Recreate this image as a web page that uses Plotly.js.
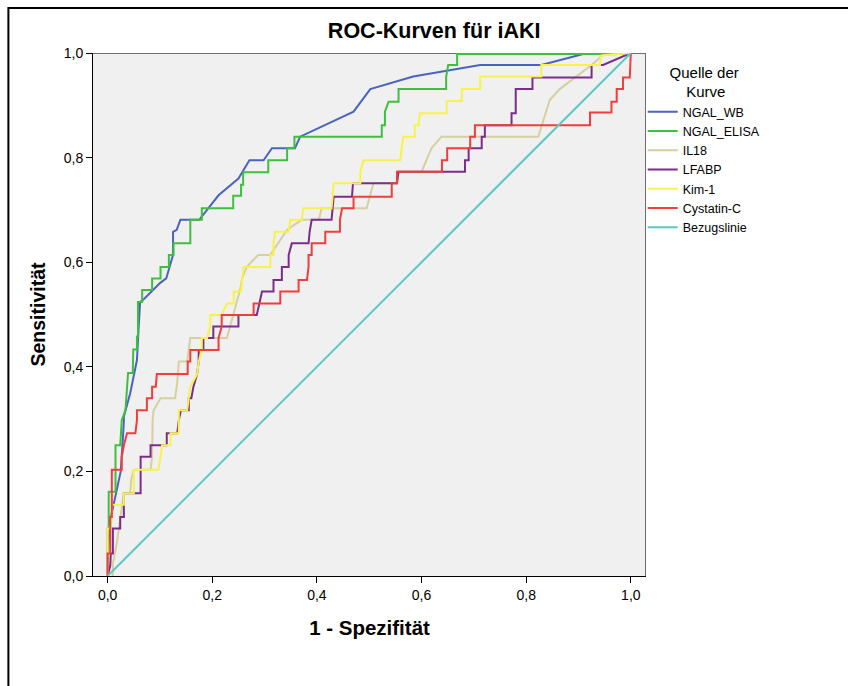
<!DOCTYPE html>
<html>
<head>
<meta charset="utf-8">
<script src="https://cdn.plot.ly/plotly-3.0.1.min.js"></script>
<style>
html,body{margin:0;padding:0;background:#fff;}
#chart{width:848px;height:686px;}
</style>
</head>
<body>
<div id="chart"></div>
<script>
// ---- Data ----
const seriesNames = ["NGAL_WB", "NGAL_ELISA", "IL18", "LFABP", "Kim-1", "Cystatin-C", "Bezugslinie"];

const ngalWbX = [0, 0, 0.005, 0.018, 0.025, 0.031, 0.031, 0.043, 0.056, 0.059, 0.062, 0.07, 0.088, 0.1, 0.112, 0.125, 0.125, 0.132, 0.139, 0.175, 0.212, 0.24, 0.25, 0.271, 0.298, 0.314, 0.358, 0.368, 0.47, 0.502, 0.584, 0.712, 0.829, 0.909, 1.0];
const ngalWbY = [0, 0.04, 0.107, 0.164, 0.2, 0.295, 0.305, 0.349, 0.413, 0.47, 0.524, 0.53, 0.547, 0.56, 0.569, 0.614, 0.658, 0.662, 0.681, 0.681, 0.728, 0.751, 0.76, 0.795, 0.795, 0.818, 0.818, 0.84, 0.888, 0.931, 0.955, 0.977, 0.977, 0.998, 1.0];

const ngalElisaX = [0, 0, 0.002, 0.002, 0.015, 0.015, 0.024, 0.027, 0.034, 0.039, 0.048, 0.048, 0.049, 0.056, 0.056, 0.058, 0.058, 0.066, 0.066, 0.085, 0.085, 0.101, 0.101, 0.117, 0.117, 0.126, 0.126, 0.158, 0.158, 0.18, 0.18, 0.24, 0.24, 0.255, 0.255, 0.259, 0.259, 0.307, 0.307, 0.343, 0.343, 0.357, 0.357, 0.524, 0.524, 0.53, 0.53, 0.537, 0.556, 0.556, 0.647, 0.647, 0.651, 0.668, 0.668, 1.0];
const ngalElisaY = [0, 0.091, 0.091, 0.161, 0.161, 0.25, 0.25, 0.298, 0.317, 0.388, 0.388, 0.41, 0.433, 0.433, 0.458, 0.458, 0.524, 0.524, 0.547, 0.547, 0.569, 0.569, 0.591, 0.591, 0.614, 0.614, 0.636, 0.636, 0.681, 0.681, 0.703, 0.703, 0.727, 0.727, 0.748, 0.748, 0.772, 0.772, 0.795, 0.795, 0.818, 0.818, 0.84, 0.84, 0.862, 0.862, 0.888, 0.907, 0.907, 0.931, 0.931, 0.955, 0.977, 0.977, 0.998, 0.998];

const il18X = [0.01, 0.01, 0.017, 0.021, 0.027, 0.031, 0.043, 0.045, 0.05, 0.082, 0.085, 0.086, 0.088, 0.101, 0.129, 0.133, 0.136, 0.152, 0.155, 0.158, 0.228, 0.241, 0.253, 0.257, 0.266, 0.288, 0.311, 0.343, 0.371, 0.404, 0.409, 0.495, 0.508, 0.553, 0.556, 0.6, 0.619, 0.638, 0.823, 0.845, 0.864, 0.925, 0.947, 1.0];
const il18Y = [0, 0.024, 0.06, 0.091, 0.13, 0.158, 0.158, 0.184, 0.203, 0.203, 0.228, 0.298, 0.317, 0.34, 0.34, 0.37, 0.41, 0.41, 0.432, 0.455, 0.455, 0.502, 0.547, 0.569, 0.591, 0.614, 0.614, 0.662, 0.681, 0.681, 0.703, 0.703, 0.751, 0.751, 0.773, 0.773, 0.818, 0.84, 0.84, 0.91, 0.931, 0.977, 0.996, 1.0];

const lfabpX = [0, 0.005, 0.006, 0.01, 0.01, 0.024, 0.024, 0.031, 0.031, 0.063, 0.063, 0.082, 0.082, 0.113, 0.113, 0.133, 0.136, 0.14, 0.155, 0.155, 0.16, 0.164, 0.171, 0.174, 0.174, 0.183, 0.183, 0.202, 0.202, 0.25, 0.25, 0.285, 0.29, 0.295, 0.317, 0.317, 0.333, 0.333, 0.346, 0.346, 0.352, 0.384, 0.386, 0.39, 0.428, 0.43, 0.432, 0.467, 0.469, 0.553, 0.556, 0.683, 0.683, 0.69, 0.69, 0.715, 0.715, 0.721, 0.721, 0.772, 0.772, 0.78, 0.78, 0.812, 0.812, 0.925, 0.925, 0.947, 1.0];
const lfabpY = [0, 0.02, 0.043, 0.043, 0.091, 0.091, 0.113, 0.113, 0.158, 0.158, 0.228, 0.228, 0.25, 0.25, 0.273, 0.273, 0.298, 0.317, 0.317, 0.34, 0.34, 0.362, 0.386, 0.41, 0.432, 0.432, 0.455, 0.455, 0.477, 0.477, 0.499, 0.499, 0.521, 0.544, 0.544, 0.566, 0.566, 0.591, 0.591, 0.614, 0.636, 0.636, 0.658, 0.681, 0.681, 0.703, 0.725, 0.725, 0.751, 0.751, 0.773, 0.773, 0.795, 0.795, 0.818, 0.818, 0.84, 0.84, 0.862, 0.862, 0.885, 0.885, 0.931, 0.931, 0.953, 0.953, 0.977, 0.977, 1.0];

const kimX = [0, 0, 0.005, 0.008, 0.008, 0.031, 0.031, 0.05, 0.05, 0.097, 0.101, 0.104, 0.12, 0.12, 0.136, 0.136, 0.136, 0.152, 0.155, 0.158, 0.171, 0.174, 0.18, 0.18, 0.19, 0.196, 0.196, 0.218, 0.228, 0.241, 0.241, 0.255, 0.257, 0.26, 0.311, 0.311, 0.317, 0.317, 0.32, 0.346, 0.349, 0.371, 0.374, 0.428, 0.43, 0.432, 0.483, 0.483, 0.489, 0.559, 0.562, 0.565, 0.587, 0.587, 0.594, 0.597, 0.648, 0.648, 0.677, 0.677, 0.712, 0.712, 0.829, 0.829, 0.941, 0.943, 1.0];
const kimY = [0, 0.091, 0.091, 0.113, 0.136, 0.136, 0.158, 0.158, 0.203, 0.203, 0.228, 0.25, 0.25, 0.273, 0.273, 0.298, 0.317, 0.317, 0.34, 0.362, 0.386, 0.41, 0.432, 0.455, 0.455, 0.477, 0.499, 0.499, 0.521, 0.521, 0.544, 0.544, 0.566, 0.591, 0.591, 0.614, 0.614, 0.636, 0.658, 0.658, 0.681, 0.681, 0.703, 0.703, 0.725, 0.751, 0.751, 0.773, 0.795, 0.795, 0.818, 0.84, 0.84, 0.862, 0.862, 0.885, 0.885, 0.908, 0.908, 0.931, 0.931, 0.955, 0.955, 0.977, 0.977, 0.995, 1.0];

const cysX = [0, 0, 0.005, 0.005, 0.008, 0.008, 0.027, 0.027, 0.031, 0.037, 0.053, 0.056, 0.056, 0.075, 0.075, 0.085, 0.085, 0.092, 0.094, 0.153, 0.153, 0.158, 0.158, 0.212, 0.212, 0.218, 0.218, 0.279, 0.279, 0.33, 0.33, 0.365, 0.365, 0.381, 0.384, 0.384, 0.39, 0.39, 0.416, 0.416, 0.444, 0.444, 0.448, 0.47, 0.47, 0.543, 0.543, 0.553, 0.553, 0.639, 0.639, 0.649, 0.649, 0.693, 0.693, 0.702, 0.702, 0.922, 0.922, 0.963, 0.963, 0.973, 0.973, 0.985, 0.985, 0.998, 1.0];
const cysY = [0, 0.043, 0.043, 0.113, 0.113, 0.203, 0.203, 0.228, 0.25, 0.273, 0.273, 0.298, 0.317, 0.317, 0.34, 0.34, 0.362, 0.362, 0.386, 0.386, 0.41, 0.41, 0.432, 0.432, 0.455, 0.477, 0.499, 0.499, 0.521, 0.521, 0.544, 0.544, 0.566, 0.566, 0.591, 0.614, 0.614, 0.636, 0.636, 0.658, 0.658, 0.681, 0.703, 0.703, 0.725, 0.725, 0.751, 0.751, 0.773, 0.773, 0.795, 0.795, 0.818, 0.818, 0.84, 0.84, 0.862, 0.862, 0.886, 0.886, 0.907, 0.907, 0.931, 0.931, 0.953, 0.953, 1.0];

const refX = [0, 1];
const refY = [0, 1];

const tickVals = [0, 0.2, 0.4, 0.6, 0.8, 1.0];
const tickText = ["0,0", "0,2", "0,4", "0,6", "0,8", "1,0"];

const colors = ["#4a63c0", "#3fbf3f", "#d6cf9f", "#7b2d8b", "#f7f24c", "#f23d3d", "#5bc8c8"];

const xs = [ngalWbX, ngalElisaX, il18X, lfabpX, kimX, cysX, refX];
const ys = [ngalWbY, ngalElisaY, il18Y, lfabpY, kimY, cysY, refY];

const traces = seriesNames.map((n, i) => ({
  type: "scatter",
  mode: "lines",
  name: n,
  x: xs[i],
  y: ys[i],
  line: {color: colors[i], width: 2},
  hoverinfo: "x+y+name"
}));

const FONT = "Liberation Sans, Arial, sans-serif";

const layout = {
  width: 848,
  height: 686,
  margin: {l: 93, r: 202, t: 53, b: 110},
  paper_bgcolor: "#ffffff",
  plot_bgcolor: "#f0f0f0",
  separators: ",.",
  font: {family: FONT, color: "#000000", size: 14},
  title: {
    text: "<b>ROC-Kurven für iAKI</b>",
    font: {family: FONT, size: 21.5, color: "#000"},
    x: 0.512, xref: "container", xanchor: "center",
    y: 0.956, yref: "container", yanchor: "middle"
  },
  xaxis: {
    range: [-0.028, 1.029],
    tickvals: tickVals,
    ticktext: tickText,
    ticks: "outside",
    ticklen: 6,
    tickcolor: "#000",
    tickwidth: 1,
    showgrid: false,
    zeroline: false,
    showline: true,
    linecolor: "#000",
    linewidth: 1,
    tickfont: {family: FONT, size: 14, color: "#000"},
    title: {text: "<b>1 - Spezifität</b>", font: {family: FONT, size: 20.5, color: "#000"}, standoff: 18},
    automargin: false,
    fixedrange: true
  },
  yaxis: {
    range: [0, 1],
    tickvals: tickVals,
    ticktext: tickText,
    ticks: "outside",
    ticklen: 6,
    tickcolor: "#000",
    tickwidth: 1,
    showgrid: false,
    zeroline: false,
    showline: true,
    linecolor: "#000",
    linewidth: 1,
    tickfont: {family: FONT, size: 14, color: "#000"},
    title: {text: "<b>Sensitivität</b>", font: {family: FONT, size: 19.5, color: "#000"}, standoff: 12},
    automargin: false,
    fixedrange: true
  },
  showlegend: true,
  legend: {
    x: 0.994, xanchor: "left",
    y: 0.99, yanchor: "top",
    bgcolor: "rgba(255,255,255,0)",
    font: {family: FONT, size: 12.5, color: "#000"},
    itemwidth: 30,
    title: {text: "Quelle der<br>&nbsp;&nbsp;&nbsp;&nbsp;Kurve", side: "top center", font: {family: FONT, size: 15, color: "#000"}},
    traceorder: "normal"
  },
  shapes: [
    {type: "line", xref: "x", yref: "y", x0: -0.028, x1: 1.029, y0: 1, y1: 1, layer: "below", line: {color: "#6e6e6e", width: 2}},
    {type: "line", xref: "x", yref: "y", x0: 1.029, x1: 1.029, y0: 0, y1: 1, layer: "below", line: {color: "#6e6e6e", width: 2}},
    {type: "rect", xref: "paper", yref: "paper", x0: -0.153, x1: 1.6, y0: -0.6, y1: 1.086, layer: "above", line: {color: "#000", width: 2}, fillcolor: "rgba(0,0,0,0)"}
  ]
};

Plotly.newPlot("chart", traces, layout, {displayModeBar: false, staticPlot: true});
</script>
</body>
</html>
